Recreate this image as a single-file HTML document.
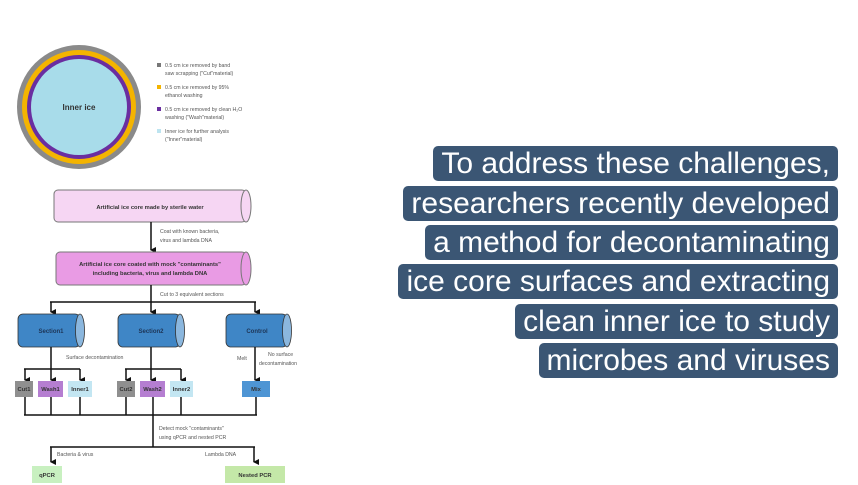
<!DOCTYPE html>
<html><head><meta charset="utf-8"><style>
html,body{margin:0;padding:0;background:#fff;}
body{width:858px;height:485px;overflow:hidden;position:relative;font-family:"Liberation Sans",sans-serif;}
.cap{position:absolute;right:20px;height:35px;background:#3b5674;color:#fff;font-size:30px;line-height:35px;padding:0 8px;border-radius:5px;white-space:nowrap;}
</style></head><body>
<svg width="858" height="485" style="position:absolute;left:0;top:0" font-family="Liberation Sans, sans-serif">
<defs><marker id="a" markerWidth="6" markerHeight="6" refX="3" refY="5" orient="auto" markerUnits="userSpaceOnUse"><path d="M0,0 L6,0 L3,6z" fill="#111"/></marker></defs>
<circle cx="79" cy="107" r="62" fill="#8a8a8a"/>
<circle cx="79" cy="107" r="57" fill="#f4b400"/>
<circle cx="79" cy="107" r="52" fill="#6a2ea0"/>
<circle cx="79" cy="107" r="48" fill="#a8dcea"/>
<text x="79" y="110" font-size="8" font-weight="bold" fill="#333" text-anchor="middle">Inner ice</text>
<g font-size="5.2" fill="#555">
<rect x="157" y="63" width="4" height="4" fill="#777"/><text x="165" y="67">0.5 cm ice removed by band</text><text x="165" y="75">saw scrapping ("Cut"material)</text>
<rect x="157" y="85" width="4" height="4" fill="#f4b400"/><text x="165" y="89">0.5 cm ice removed by 95%</text><text x="165" y="97">ethanol washing</text>
<rect x="157" y="107" width="4" height="4" fill="#6a2ea0"/><text x="165" y="111">0.5 cm ice removed by clean H₂O</text><text x="165" y="119">washing ("Wash"material)</text>
<rect x="157" y="129" width="4" height="4" fill="#bde4f0"/><text x="165" y="133">Inner ice for further analysis</text><text x="165" y="141">("Inner"material)</text>
</g>
<rect x="54" y="190" width="192" height="32" rx="4" fill="#f6d6f3" stroke="#777"/>
<ellipse cx="246" cy="206" rx="5" ry="16" fill="#f6d6f3" stroke="#777"/>
<text x="150" y="209" font-size="5.8" font-weight="bold" fill="#333" text-anchor="middle">Artificial ice core made by sterile water</text>
<line x1="151" y1="222" x2="151" y2="250" stroke="#111" stroke-width="1.5" marker-end="url(#a)"/>
<g font-size="5.2" fill="#555"><text x="160" y="233">Coat with known bacteria,</text><text x="160" y="242">virus and lambda DNA</text></g>
<rect x="56" y="252" width="190" height="33" rx="4" fill="#e99be4" stroke="#777"/>
<ellipse cx="246" cy="268.5" rx="5" ry="16.5" fill="#e99be4" stroke="#777"/>
<g font-size="5.8" font-weight="bold" fill="#333" text-anchor="middle"><text x="150" y="266">Artificial ice core coated with mock "contaminants"</text><text x="150" y="275">including bacteria, virus and lambda DNA</text></g>
<g stroke="#111" stroke-width="1.5" fill="none">
<line x1="151" y1="285" x2="151" y2="302"/>
<line x1="50" y1="302" x2="256" y2="302"/>
<line x1="51" y1="302" x2="51" y2="312" marker-end="url(#a)"/>
<line x1="151" y1="302" x2="151" y2="312" marker-end="url(#a)"/>
<line x1="255" y1="302" x2="255" y2="312" marker-end="url(#a)"/>
</g>
<text x="160" y="296" font-size="5.2" fill="#555">Cut to 3 equivalent sections</text>
<g fill="#3f86c6" stroke="#333" stroke-width="0.8">
<rect x="18" y="314" width="62" height="33" rx="5"/><ellipse cx="80" cy="330.5" rx="4.5" ry="16.5" fill="#8bb7de"/>
<rect x="118" y="314" width="62" height="33" rx="5"/><ellipse cx="180" cy="330.5" rx="4.5" ry="16.5" fill="#8bb7de"/>
<rect x="226" y="314" width="61" height="33" rx="5"/><ellipse cx="287" cy="330.5" rx="4.5" ry="16.5" fill="#8bb7de"/>
</g>
<g font-size="6" font-weight="bold" fill="#1d3557" text-anchor="middle"><text x="51" y="333">Section1</text><text x="151" y="333">Section2</text><text x="257" y="333">Control</text></g>
<g font-size="5.2" fill="#555"><text x="66" y="359">Surface decontamination</text><text x="237" y="360">Melt</text><text x="268" y="356">No surface</text><text x="259" y="365">decontamination</text></g>
<g stroke="#111" stroke-width="1.5" fill="none">
<line x1="51" y1="347" x2="51" y2="380" marker-end="url(#a)"/>
<line x1="24" y1="369" x2="80" y2="369"/>
<line x1="25" y1="369" x2="25" y2="380" marker-end="url(#a)"/>
<line x1="80" y1="369" x2="80" y2="380" marker-end="url(#a)"/>
<line x1="151" y1="347" x2="151" y2="380" marker-end="url(#a)"/>
<line x1="125" y1="369" x2="181" y2="369"/>
<line x1="126" y1="369" x2="126" y2="380" marker-end="url(#a)"/>
<line x1="181" y1="369" x2="181" y2="380" marker-end="url(#a)"/>
<line x1="255" y1="347" x2="255" y2="380" marker-end="url(#a)"/>
<path d="M25,397 V415 M51,397 V415 M80,397 V415 M126,397 V415 M153,397 V415 M181,397 V415 M256,397 V415 M24,415 H257"/>
<line x1="153" y1="415" x2="153" y2="447"/>
<line x1="50" y1="447" x2="255" y2="447"/>
<line x1="51" y1="447" x2="51" y2="462" marker-end="url(#a)"/>
<line x1="254" y1="447" x2="254" y2="462" marker-end="url(#a)"/>
</g>
<rect x="15" y="381" width="18" height="16" fill="#8f8f8f"/>
<rect x="38" y="381" width="25" height="16" fill="#b57ed1"/>
<rect x="68" y="381" width="24" height="16" fill="#c3e6f2"/>
<rect x="117" y="381" width="18" height="16" fill="#8f8f8f"/>
<rect x="140" y="381" width="25" height="16" fill="#b57ed1"/>
<rect x="170" y="381" width="23" height="16" fill="#c3e6f2"/>
<rect x="242" y="381" width="28" height="16" fill="#4e95d4"/>
<g font-size="5.8" font-weight="bold" fill="#333" text-anchor="middle">
<text x="24" y="391">Cut1</text><text x="50.5" y="391">Wash1</text><text x="80" y="391">Inner1</text>
<text x="126" y="391">Cut2</text><text x="152.5" y="391">Wash2</text><text x="181.5" y="391">Inner2</text><text x="256" y="391">Mix</text></g>
<g font-size="5.2" fill="#555"><text x="159" y="430">Detect mock "contaminants"</text><text x="159" y="439">using qPCR and nested PCR</text>
<text x="57" y="456">Bacteria &amp; virus</text><text x="205" y="456">Lambda DNA</text></g>
<rect x="32" y="466" width="30" height="17" fill="#c8f0c0"/>
<rect x="225" y="466" width="60" height="17" fill="#c4e8a8"/>
<g font-size="5.8" font-weight="bold" fill="#333" text-anchor="middle"><text x="47" y="477">qPCR</text><text x="255" y="477">Nested PCR</text></g>
</svg>
<div class="cap" style="top:146px">To address these challenges,</div>
<div class="cap" style="top:186px">researchers recently developed</div>
<div class="cap" style="top:225px">a method for decontaminating</div>
<div class="cap" style="top:264px">ice core surfaces and extracting</div>
<div class="cap" style="top:304px">clean inner ice to study</div>
<div class="cap" style="top:343px">microbes and viruses</div>
</body></html>
